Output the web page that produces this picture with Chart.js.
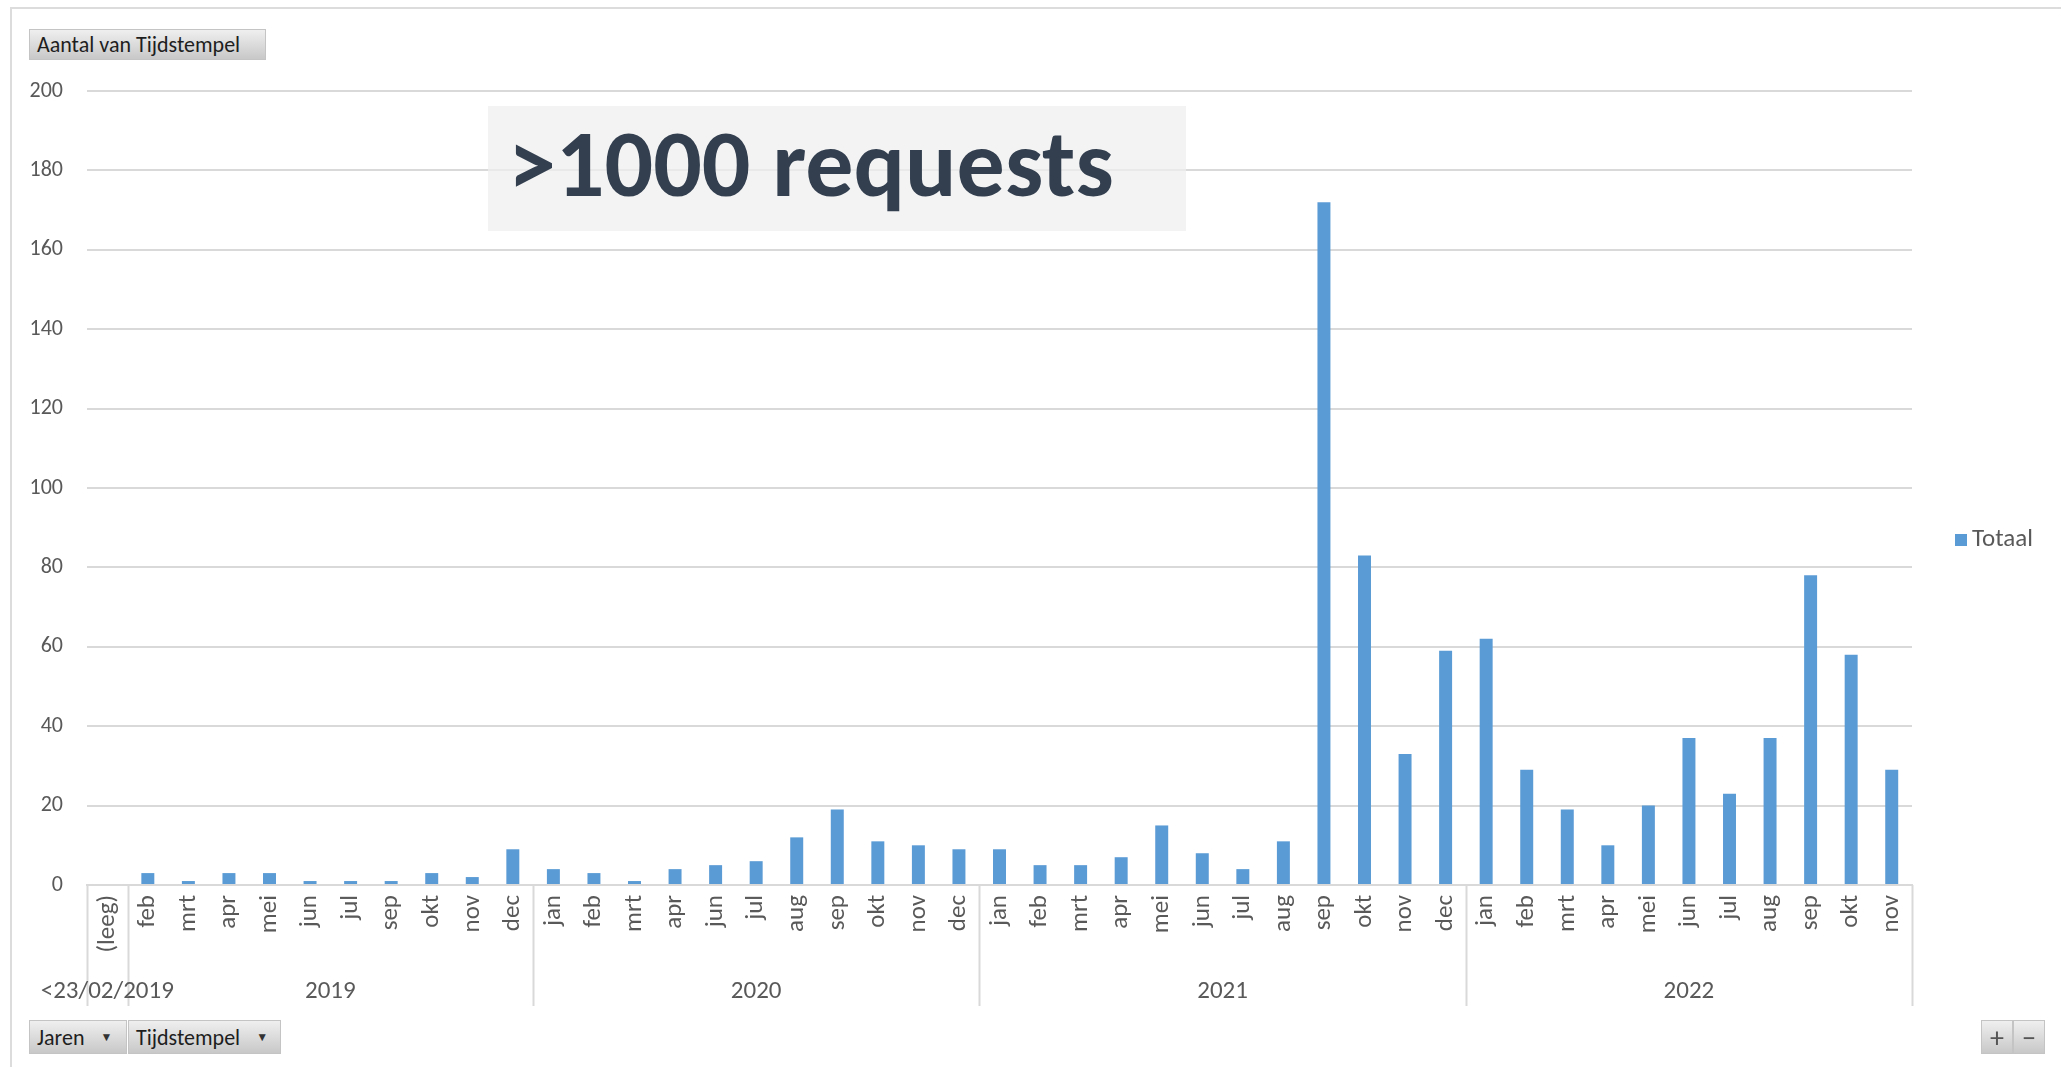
<!DOCTYPE html>
<html>
<head>
<meta charset="utf-8">
<script src="https://cdn.jsdelivr.net/npm/chart.js@4.4.0/dist/chart.umd.min.js"></script>
<style>
html,body{margin:0;padding:0;background:#fff;}
#wrap{position:relative;width:2061px;height:1067px;overflow:hidden;font-family:Carlito,Calibri,Lato,'Open Sans',sans-serif;}
#frame{position:absolute;left:10px;top:7px;width:2100px;height:1100px;border-left:2px solid #dcdcdc;border-top:2px solid #dcdcdc;}
#cv{position:absolute;left:0;top:0;}
.btn{position:absolute;box-sizing:border-box;background:linear-gradient(#efefef,#c8c8c8);border:1px solid #c4c4c4;color:#1e1e1e;font-size:22px;display:flex;align-items:center;padding-left:7px;white-space:nowrap;}
.arr{font-size:12px;margin-left:16px;color:#333;}
.pm{justify-content:center;padding-left:0;font-size:28px;color:#555;}
#note{position:absolute;left:488px;top:106px;width:698px;height:125px;background:rgba(238,238,238,0.72);color:#333f4f;font-weight:bold;font-size:96px;line-height:116px;box-sizing:border-box;padding-left:20px;white-space:nowrap;}
</style>
</head>
<body>
<div id="wrap">
  <div id="frame"></div>
  <canvas id="cv" width="2061" height="1067"></canvas>
  <div class="btn" style="left:29px;top:29px;width:237px;height:31px;">Aantal van Tijdstempel</div>
  <div id="note">&gt;1000 requests</div>
  <div class="btn" style="left:29px;top:1020px;width:98px;height:34px;">Jaren<span class="arr">&#9660;</span></div>
  <div class="btn" style="left:128px;top:1020px;width:153px;height:34px;">Tijdstempel<span class="arr">&#9660;</span></div>
  <div class="btn pm" style="left:1981px;top:1020px;width:32px;height:34px;">+</div>
  <div class="btn pm" style="left:2013px;top:1020px;width:32px;height:34px;">&minus;</div>
</div>
<script>
// ---- data ----
const groupLabels = ['<23/02/2019', '2019', '2020', '2021', '2022'];
const groupMonths = [
  ['(leeg)'],
  ['feb','mrt','apr','mei','jun','jul','sep','okt','nov','dec'],
  ['jan','feb','mrt','apr','jun','jul','aug','sep','okt','nov','dec'],
  ['jan','feb','mrt','apr','mei','jun','jul','aug','sep','okt','nov','dec'],
  ['jan','feb','mrt','apr','mei','jun','jul','aug','sep','okt','nov']
];
const groupValues = [
  [0],
  [3, 1, 3, 3, 1, 1, 1, 3, 2, 9],
  [4, 3, 1, 4, 5, 6, 12, 19, 11, 10, 9],
  [9, 5, 5, 7, 15, 8, 4, 11, 172, 83, 33, 59],
  [62, 29, 19, 10, 20, 37, 23, 37, 78, 58, 29]
];
const seriesName = 'Totaal';
const yTicks = [0, 20, 40, 60, 80, 100, 120, 140, 160, 180, 200];

// ---- derived ----
const categories = [].concat(...groupMonths);
const values = [].concat(...groupValues);
const groupSizes = groupMonths.map(g => g.length);

const FONT = "Carlito, Calibri, Lato, 'Open Sans', sans-serif";
const TXT = '#595959';
const GRID = '#d9d9d9';
const BAR = '#5b9bd5';

const groupPlugin = {
  id: 'groups',
  afterDraw(chart) {
    const { ctx, chartArea } = chart;
    const x = chart.scales.x;
    const n = categories.length;
    const bound = i => i <= 0 ? chartArea.left : (i >= n ? chartArea.right :
      (x.getPixelForValue(i - 1) + x.getPixelForValue(i)) / 2);
    const y0 = chartArea.bottom;
    const y1 = y0 + 121;
    ctx.save();
    ctx.strokeStyle = GRID;
    ctx.lineWidth = 2;
    let idx = 0;
    const edges = [0];
    groupSizes.forEach(s => { idx += s; edges.push(idx); });
    edges.forEach(e => {
      const px = Math.round(bound(e)) + 0.5;
      ctx.beginPath(); ctx.moveTo(px, y0); ctx.lineTo(px, y1); ctx.stroke();
    });
    ctx.fillStyle = TXT;
    ctx.font = '25px ' + FONT;
    ctx.textAlign = 'center';
    ctx.textBaseline = 'middle';
    for (let g = 0; g < groupLabels.length; g++) {
      const cx = (bound(edges[g]) + bound(edges[g + 1])) / 2;
      ctx.fillText(groupLabels[g], cx, y0 + 107);
    }
    // legend
    const ly = (chartArea.top + chartArea.bottom) / 2 + 52;
    ctx.fillStyle = BAR;
    ctx.fillRect(1955, ly - 6, 12, 12);
    ctx.fillStyle = TXT;
    ctx.textAlign = 'left';
    ctx.font = '25px ' + FONT;
    ctx.fillText(chart.data.datasets[0].label, 1972, ly);
    ctx.restore();
  }
};

new Chart(document.getElementById('cv'), {
  type: 'bar',
  data: {
    labels: categories,
    datasets: [{
      label: seriesName,
      data: values,
      backgroundColor: BAR,
      borderWidth: 0,
      barPercentage: 0.32,
      categoryPercentage: 1.0
    }]
  },
  options: {
    responsive: false,
    animation: false,
    devicePixelRatio: 1,
    layout: { padding: { left: 0, top: 91, right: 149, bottom: 0 } },
    plugins: { legend: { display: false }, tooltip: { enabled: false } },
    scales: {
      x: {
        grid: { display: false, drawTicks: false },
        border: { display: true, color: GRID, width: 2 },
        ticks: {
          autoSkip: false, minRotation: 90, maxRotation: 90, padding: 10,
          color: TXT, font: { family: FONT, size: 25 }
        },
        afterFit(s) { s.height = 182; }
      },
      y: {
        min: 0, max: 200,
        afterBuildTicks(s) { s.ticks = yTicks.map(v => ({ value: v })); },
        grid: { color: GRID, lineWidth: 2, drawTicks: false },
        border: { display: false },
        ticks: { padding: 24, color: TXT, font: { family: FONT, size: 22 } },
        afterFit(s) { s.width = 87; }
      }
    }
  },
  plugins: [groupPlugin]
});
</script>
</body>
</html>
